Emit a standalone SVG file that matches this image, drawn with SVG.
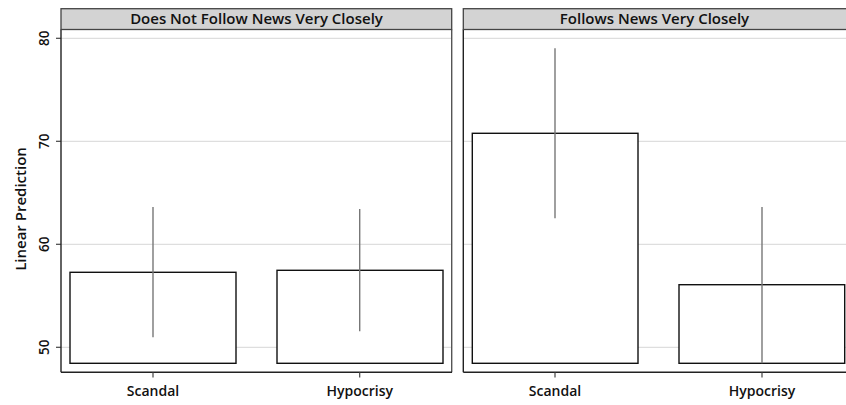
<svg xmlns="http://www.w3.org/2000/svg" width="846" height="405" viewBox="0 0 846 405">
<style>
text{font-family:"Open Sans","Noto Sans","Liberation Sans",sans-serif;font-weight:600;fill:#111}
.hdr{fill:#d3d3d3;stroke:#444;stroke-width:1.3}
.grid{stroke:#dedede;stroke-width:1.2}
.axis{stroke:#222;stroke-width:1.4;fill:none}
.frame{stroke:#555;stroke-width:1.4;fill:none}
.bar{fill:#fff;stroke:#111;stroke-width:1.4}
.ci{stroke:#777;stroke-width:1.4}
.tick{stroke:#444;stroke-width:1.2}
.title{font-size:15px}
.xl{font-size:14px}
.yl{font-size:13.5px}
.ylab{font-size:15px}
</style>
<rect width="846" height="405" fill="#fff"/>
<g id="yaxis">
<text class="ylab" transform="translate(25.5,209) rotate(-90)" text-anchor="middle">Linear Prediction</text>
<text class="yl" transform="translate(49,38.3) rotate(-90)" text-anchor="middle">80</text>
<text class="yl" transform="translate(49,141.3) rotate(-90)" text-anchor="middle">70</text>
<text class="yl" transform="translate(49,244.3) rotate(-90)" text-anchor="middle">60</text>
<text class="yl" transform="translate(49,347.3) rotate(-90)" text-anchor="middle">50</text>
<line class="tick" x1="56" y1="38.3" x2="61" y2="38.3"/>
<line class="tick" x1="56" y1="141.3" x2="61" y2="141.3"/>
<line class="tick" x1="56" y1="244.3" x2="61" y2="244.3"/>
<line class="tick" x1="56" y1="347.3" x2="61" y2="347.3"/>
</g>
<g id="panel-left">
<line class="grid" x1="61" y1="38.3" x2="452" y2="38.3"/>
<line class="grid" x1="61" y1="141.3" x2="452" y2="141.3"/>
<line class="grid" x1="61" y1="244.3" x2="452" y2="244.3"/>
<line class="grid" x1="61" y1="347.3" x2="452" y2="347.3"/>
<line class="frame" x1="451.7" y1="29.5" x2="451.7" y2="372.3"/>
<line class="axis" x1="61" y1="29.5" x2="61" y2="372.3"/>
<line class="axis" x1="61" y1="372.3" x2="452" y2="372.3"/>
<rect class="hdr" x="61" y="8.7" width="390.7" height="20.8"/>
<text class="title" x="256.5" y="23.5" text-anchor="middle">Does Not Follow News Very Closely</text>
<line class="tick" x1="153" y1="372.3" x2="153" y2="377.5"/>
<line class="tick" x1="359.7" y1="372.3" x2="359.7" y2="377.5"/>
<text class="xl" x="153" y="396" text-anchor="middle">Scandal</text>
<text class="xl" x="359.7" y="396" text-anchor="middle">Hypocrisy</text>
</g>
<g id="bar-left-scandal">
<rect class="bar" x="70" y="272.3" width="166" height="91"/>
<line class="ci" x1="153" y1="207" x2="153" y2="337.3"/>
</g>
<g id="bar-left-hypocrisy">
<rect class="bar" x="277" y="270.3" width="166" height="93"/>
<line class="ci" x1="359.7" y1="209" x2="359.7" y2="331.3"/>
</g>
<g id="panel-right">
<line class="grid" x1="463.3" y1="38.3" x2="846" y2="38.3"/>
<line class="grid" x1="463.3" y1="141.3" x2="846" y2="141.3"/>
<line class="grid" x1="463.3" y1="244.3" x2="846" y2="244.3"/>
<line class="grid" x1="463.3" y1="347.3" x2="846" y2="347.3"/>
<line class="axis" x1="463.3" y1="29.5" x2="463.3" y2="372.3"/>
<line class="axis" x1="463.3" y1="372.3" x2="847" y2="372.3"/>
<rect class="hdr" x="463.3" y="8.7" width="384" height="20.8"/>
<text class="title" x="654.5" y="23.5" text-anchor="middle">Follows News Very Closely</text>
<line class="tick" x1="555" y1="372.3" x2="555" y2="377.5"/>
<line class="tick" x1="762" y1="372.3" x2="762" y2="377.5"/>
<text class="xl" x="555" y="396" text-anchor="middle">Scandal</text>
<text class="xl" x="762" y="396" text-anchor="middle">Hypocrisy</text>
</g>
<g id="bar-right-scandal">
<rect class="bar" x="472.3" y="133.3" width="165.7" height="230"/>
<line class="ci" x1="555" y1="48.3" x2="555" y2="218.3"/>
</g>
<g id="bar-right-hypocrisy">
<rect class="bar" x="679" y="284.7" width="165.7" height="78.6"/>
<line class="ci" x1="762" y1="207" x2="762" y2="363.3"/>
</g>
</svg>
